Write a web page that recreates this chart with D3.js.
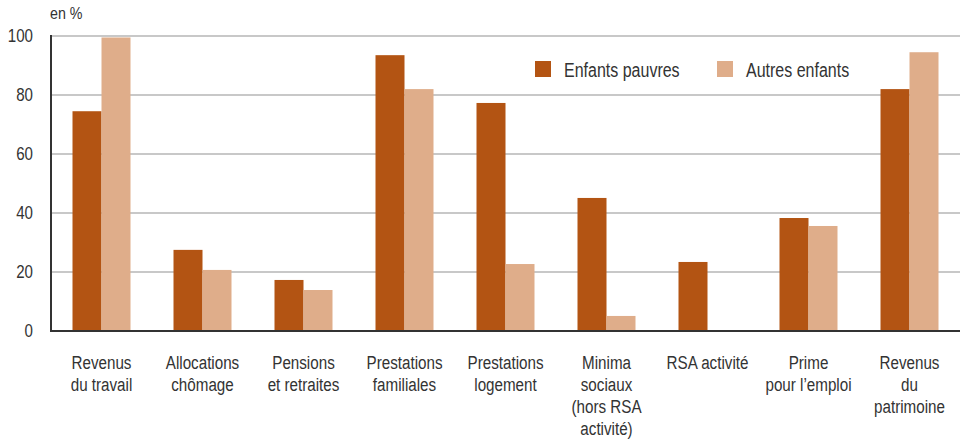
<!DOCTYPE html>
<html>
<head>
<meta charset="utf-8">
<script src="https://cdn.jsdelivr.net/npm/d3@7"></script>
<style>
  body { margin: 0; background: #fff; }
  svg text { font-family: "Liberation Sans", Arial, sans-serif; fill: #333; }
</style>
</head>
<body>
<svg width="960" height="441"></svg>
<script>
// categories (lines of each label)
const categories = [
  ['Revenus', 'du travail'],
  ['Allocations', 'chômage'],
  ['Pensions', 'et retraites'],
  ['Prestations', 'familiales'],
  ['Prestations', 'logement'],
  ['Minima', 'sociaux', '(hors RSA', 'activité)'],
  ['RSA activité'],
  ['Prime', 'pour l\u2019emploi'],
  ['Revenus', 'du', 'patrimoine']
];
const series = ['Enfants pauvres', 'Autres enfants'];
const pauvres = [74.5, 27.5, 17.3, 93.5, 77.3, 45.1, 23.4, 38.3, 82];
const autres  = [99.5, 20.7, 13.9, 82, 22.7, 5.1, 0, 35.6, 94.5];
const yTicks = [0, 20, 40, 60, 80, 100];
const colors = ['#b35413', '#dfad8a'];

const svg = d3.select('svg');
const plotL = 51, plotR = 960, plotT = 36, plotB = 331;

const x = d3.scaleBand().domain(d3.range(categories.length)).range([plotL, plotR]).padding(0);
const y = d3.scaleLinear().domain([0, 100]).range([plotB, plotT]);
const barW = 29;

// condensed look: Arial squeezed horizontally
function place(px, py, k) {
  return `translate(${px},${py}) scale(${k || 0.8},1)`;
}

// gridlines
svg.append('g').selectAll('line')
  .data(yTicks.filter(d => d > 0))
  .join('line')
  .attr('x1', plotL).attr('x2', plotR)
  .attr('y1', d => y(d)).attr('y2', d => y(d))
  .attr('stroke', '#c8c8c8').attr('stroke-width', 2);

// y tick labels
svg.append('g').selectAll('text')
  .data(yTicks)
  .join('text')
  .attr('transform', d => place(33, y(d) + 6, 0.84))
  .attr('text-anchor', 'end')
  .attr('font-size', 18)
  .text(d => d);

svg.append('text').attr('transform', place(50, 19, 0.84)).attr('font-size', 17).text('en %');

// bars
const data = [pauvres, autres];
data.forEach((vals, s) => {
  svg.append('g').selectAll('rect')
    .data(vals)
    .join('rect')
    .attr('x', (d, i) => x(i) + x.bandwidth() / 2 - barW + s * barW)
    .attr('width', barW)
    .attr('y', d => y(d))
    .attr('height', d => y(0) - y(d))
    .attr('fill', colors[s]);
});

// axes lines
svg.append('line').attr('x1', plotL).attr('x2', plotR).attr('y1', plotB).attr('y2', plotB)
  .attr('stroke', '#333').attr('stroke-width', 2);
svg.append('line').attr('x1', plotL).attr('x2', plotL).attr('y1', plotT - 1).attr('y2', plotB + 1)
  .attr('stroke', '#333').attr('stroke-width', 2);

// category labels
const lab = svg.append('g').selectAll('text')
  .data(categories)
  .join('text')
  .attr('text-anchor', 'middle')
  .attr('font-size', 19)
  .attr('transform', (d, i) => place(x(i) + x.bandwidth() / 2, 369));
lab.selectAll('tspan')
  .data(d => d)
  .join('tspan')
  .attr('x', 0)
  .attr('dy', (d, j) => j === 0 ? 0 : 22)
  .text(d => d);

// legend
const legX = [535, 717];
series.forEach((name, s) => {
  svg.append('rect').attr('x', legX[s]).attr('y', 61).attr('width', 16).attr('height', 16).attr('fill', colors[s]);
  svg.append('text').attr('transform', place(legX[s] + 29, 77)).attr('font-size', 20).text(name);
});
</script>
</body>
</html>
